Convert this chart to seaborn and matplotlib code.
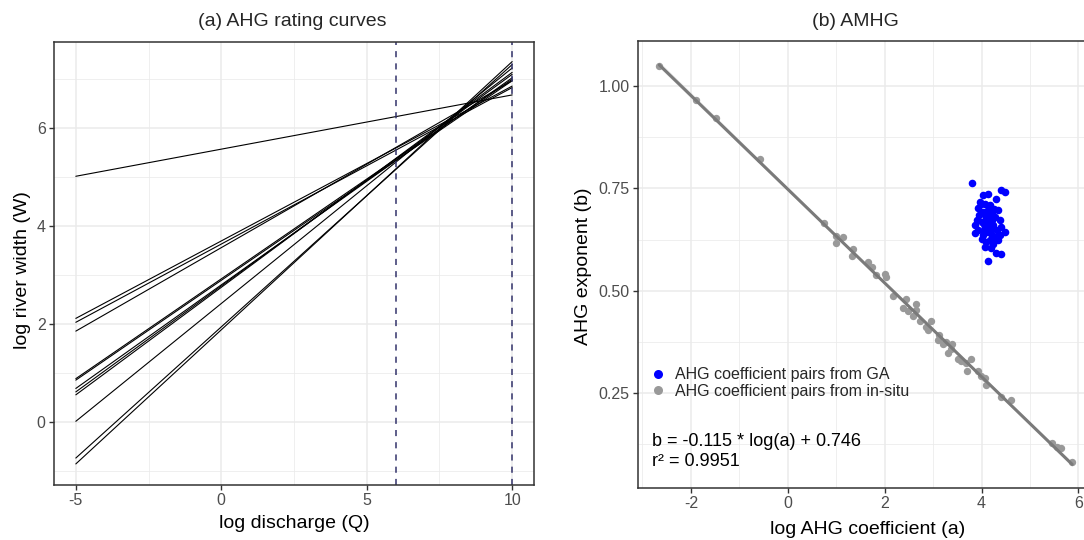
import numpy as np
import pandas as pd
import matplotlib
matplotlib.use("Agg")
import matplotlib.pyplot as plt
from matplotlib.ticker import MultipleLocator, FormatStrFormatter
from matplotlib.lines import Line2D
import seaborn as sns

# ---------------- data ----------------
# (a) AHG rating curves: log W at log Q = -5 and log Q = 10
curve_q = [-5, 10]
curve_w_start = [5.02, 2.12, 2.04, 1.86, 0.89, 0.86, 0.69, 0.62, 0.56, 0.02, -0.73, -0.85]
curve_w_end = [6.68, 6.86, 6.83, 6.97, 7.00, 6.97, 7.03, 7.10, 7.14, 7.23, 7.30, 7.36]
q_bounds = [6, 10]

# (b) AMHG: in-situ AHG coefficient pairs
insitu_a = [-2.65, -1.90, -1.48, -0.58, 0.75, 0.99, 0.99, 1.14, 1.34, 1.32, 1.66, 1.73,
            1.82, 2.00, 2.03, 2.17, 2.45, 2.38, 2.48, 2.64, 2.65, 2.58, 2.72, 2.86, 2.96,
            2.89, 3.13, 3.10, 3.20, 3.27, 3.37, 3.40, 3.30, 3.51, 3.58, 3.68, 3.78, 3.71,
            3.92, 3.99, 4.08, 4.09, 4.40, 4.60, 5.46, 5.56, 5.63, 5.87]
insitu_b = [1.050, 0.965, 0.923, 0.821, 0.665, 0.634, 0.617, 0.630, 0.603, 0.585, 0.571, 0.559,
            0.538, 0.542, 0.534, 0.486, 0.479, 0.458, 0.450, 0.467, 0.454, 0.437, 0.425, 0.412, 0.425,
            0.404, 0.391, 0.379, 0.370, 0.374, 0.358, 0.370, 0.349, 0.333, 0.328, 0.324, 0.333, 0.303,
            0.303, 0.291, 0.287, 0.270, 0.240, 0.232, 0.127, 0.119, 0.115, 0.081]

# (b) AMHG: GA AHG coefficient pairs
ga_a = [3.81, 4.02, 4.13, 4.41, 4.48, 4.29, 3.97, 4.07, 4.17, 3.93, 4.34, 4.04, 4.21, 4.10,
        4.28, 3.90, 4.00, 4.17, 4.38, 3.86, 4.07, 4.24, 4.41, 3.93, 4.14, 4.31, 4.48, 3.86,
        4.04, 4.21, 4.38, 4.00, 4.17, 4.34, 4.10, 4.24, 4.07, 4.19, 4.30, 4.40, 4.13, 3.98,
        4.14, 4.21, 4.06, 4.28, 4.15, 4.12, 4.18, 4.08, 4.22, 4.02, 4.15, 3.95, 4.25]
ga_b = [0.764, 0.733, 0.736, 0.745, 0.741, 0.725, 0.717, 0.713, 0.709, 0.701, 0.698, 0.692,
        0.688, 0.680, 0.680, 0.672, 0.668, 0.668, 0.672, 0.660, 0.656, 0.660, 0.656, 0.648,
        0.644, 0.648, 0.644, 0.640, 0.636, 0.636, 0.636, 0.627, 0.623, 0.623, 0.619, 0.615,
        0.607, 0.605, 0.591, 0.589, 0.573, 0.713, 0.697, 0.672, 0.664, 0.632, 0.652, 0.675,
        0.685, 0.690, 0.650, 0.645, 0.660, 0.685, 0.700]

eq_text = "b = -0.115 * log(a) + 0.746"
r2_text = "r\u00b2 = 0.9951"

# ---------------- style ----------------
sns.set_theme(style="white")
plt.rcParams["font.family"] = ["Liberation Sans", "DejaVu Sans"]
plt.rcParams["axes.unicode_minus"] = False

W, H = 1084, 540
fig = plt.figure(figsize=(W / 100, H / 100), dpi=100)

GRID = "#ebebeb"
FRAME = "#333333"
TICKLAB = "#4d4d4d"
TICK_FS = 11.5
LABEL_FS = 14
TITLE_FS = 14


def px_axes(left, top, right, bottom):
    return fig.add_axes([left / W, 1 - bottom / H, (right - left) / W, (bottom - top) / H])


def style_axes(ax):
    ax.set_axisbelow(True)
    ax.grid(True, which="major", color=GRID, lw=1.1)
    ax.grid(True, which="minor", color=GRID, lw=0.55)
    for s in ax.spines.values():
        s.set_color(FRAME)
        s.set_linewidth(1.1)
    ax.tick_params(which="major", length=3.5, width=1, color=FRAME, labelcolor=TICKLAB,
                   labelsize=TICK_FS, pad=2.5, bottom=True, left=True)
    ax.tick_params(which="minor", length=0, bottom=False, left=False)


# ---------------- panel (a) ----------------
ax1 = px_axes(54, 42, 534, 485)
rows = []
for i, (w0, w1) in enumerate(zip(curve_w_start, curve_w_end)):
    rows.append({"id": i, "logQ": curve_q[0], "logW": w0})
    rows.append({"id": i, "logQ": curve_q[1], "logW": w1})
df_curves = pd.DataFrame(rows)
sns.lineplot(data=df_curves, x="logQ", y="logW", units="id", estimator=None,
             color="black", lw=0.8, ax=ax1)
for q in q_bounds:
    ax1.axvline(q, color="#33336b", lw=1.1, ls=(0, (4, 4)))
ax1.set_xlim(-5.75, 10.75)
ax1.set_ylim(-1.28, 7.76)
ax1.xaxis.set_major_locator(MultipleLocator(5))
ax1.xaxis.set_minor_locator(MultipleLocator(2.5))
ax1.yaxis.set_major_locator(MultipleLocator(2))
ax1.yaxis.set_minor_locator(MultipleLocator(1))
style_axes(ax1)
ax1.set_xlabel("log discharge (Q)", fontsize=LABEL_FS, color="black", va="center")
ax1.xaxis.set_label_coords(0.5, (485 - 524) / (485 - 42))
ax1.set_ylabel("log river width (W)", fontsize=LABEL_FS, color="black", va="center")
ax1.yaxis.set_label_coords((23 - 54) / 480, (485 - 270) / (485 - 42))
fig.text(292 / W, 1 - 21 / H, "(a) AHG rating curves", ha="center", va="center", fontsize=TITLE_FS)

# ---------------- panel (b) ----------------
ax2 = px_axes(638, 41, 1093, 488)
df_insitu = pd.DataFrame({"a": insitu_a, "b": insitu_b})
df_ga = pd.DataFrame({"a": ga_a, "b": ga_b})
sns.regplot(data=df_insitu, x="a", y="b", ax=ax2, ci=95, n_boot=500, seed=1,
            scatter_kws={"s": 28, "color": "#999999", "alpha": 1, "linewidths": 0, "zorder": 2},
            line_kws={"color": "#7a7a7a", "lw": 2.2, "zorder": 3})
sns.scatterplot(data=df_ga, x="a", y="b", ax=ax2, color="#0000ff", s=30, linewidth=0, zorder=4)
ax2.set_xlim(-3.09, 6.30)
ax2.set_ylim(0.018, 1.110)
ax2.xaxis.set_major_locator(MultipleLocator(2))
ax2.xaxis.set_minor_locator(MultipleLocator(1))
ax2.yaxis.set_major_locator(MultipleLocator(0.25))
ax2.yaxis.set_minor_locator(MultipleLocator(0.125))
ax2.yaxis.set_major_formatter(FormatStrFormatter("%.2f"))
style_axes(ax2)
ax2.set_xlabel("log AHG coefficient (a)", fontsize=LABEL_FS, color="black", va="center")
ax2.xaxis.set_label_coords((868 - 638) / 455, (488 - 529) / (488 - 41))
ax2.set_ylabel("AHG exponent (b)", fontsize=LABEL_FS, color="black", va="center")
ax2.yaxis.set_label_coords((584 - 638) / 455, (488 - 266) / (488 - 41))
fig.text(855 / W, 1 - 21 / H, "(b) AMHG", ha="center", va="center", fontsize=TITLE_FS)

handles = [
    Line2D([], [], ls="none", marker="o", markersize=6.5, color="#0000ff", markeredgewidth=0),
    Line2D([], [], ls="none", marker="o", markersize=6.5, color="#999999", markeredgewidth=0),
]
ax2.legend(handles, ["AHG coefficient pairs from GA", "AHG coefficient pairs from in-situ"],
           loc="center left", bbox_to_anchor=((644 - 638) / 455, (488 - 383) / 447),
           frameon=False, fontsize=11.5, handlelength=1.0, handletextpad=0.55,
           labelspacing=0.1, borderaxespad=0)
ax2.text((652 - 638) / 455, (488 - 441) / 447, eq_text, transform=ax2.transAxes,
         ha="left", va="center", fontsize=13, color="black")
ax2.text((652 - 638) / 455, (488 - 462) / 447, r2_text, transform=ax2.transAxes,
         ha="left", va="center", fontsize=13, color="black")

fig.savefig("out.png", dpi=100)
